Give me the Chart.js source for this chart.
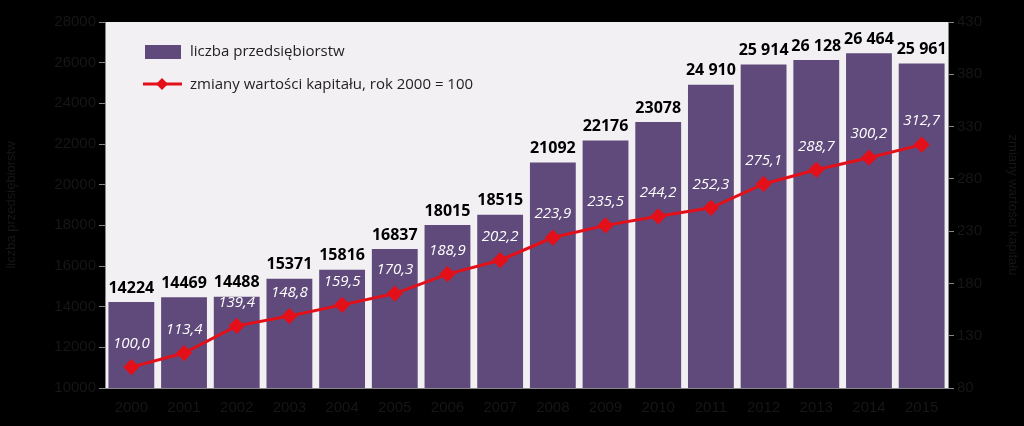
<!DOCTYPE html>
<html><head><meta charset="utf-8">
<script src="https://cdn.jsdelivr.net/npm/chart.js@4"></script>
<style>html,body{margin:0;background:#000}#wrap{width:1024px;height:426px}</style>
</head><body><div id="wrap"><canvas id="c"></canvas></div>
<script>
const years = ['2000','2001','2002','2003','2004','2005','2006','2007','2008','2009','2010','2011','2012','2013','2014','2015'];
const firms = [14224,14469,14488,15371,15816,16837,18015,18515,21092,22176,23078,24910,25914,26128,26464,25961];
const firmLabels = ['14224','14469','14488','15371','15816','16837','18015','18515','21092','22176','23078','24 910','25 914','26 128','26 464','25 961'];
const capital = [100.0,113.4,139.4,148.8,159.5,170.3,188.9,202.2,223.9,235.5,244.2,252.3,275.1,288.7,300.2,312.7];

const tickCol = '#161616';
const labelsPlugin = {
  id: 'labels',
  beforeDraw(ch) {
    const a = ch.chartArea, ctx = ch.ctx;
    ctx.save();
    ctx.fillStyle = '#000'; ctx.fillRect(0, 0, ch.width, ch.height);
    ctx.fillStyle = '#f2f0f3'; ctx.fillRect(a.left, a.top, a.right - a.left, a.bottom - a.top);
    ctx.restore();
  },
  afterDatasetsDraw(ch) {
    const ctx = ch.ctx;
    ctx.save();
    ctx.textAlign = 'center'; ctx.textBaseline = 'bottom';
    ctx.font = 'bold 16px "Open Sans", Calibri, sans-serif'; ctx.fillStyle = '#000';
    ch.getDatasetMeta(0).data.forEach((b, i) => ctx.fillText(firmLabels[i], b.x, b.y - 6));
    ctx.font = 'italic 15px "Open Sans", sans-serif'; ctx.fillStyle = '#fff';
    ch.getDatasetMeta(1).data.forEach((p, i) => ctx.fillText(capital[i].toFixed(1).replace('.', ','), p.x, p.y - 16));
    // legend
    ctx.fillStyle = '#604a7b'; ctx.fillRect(145, 45, 36, 14);
    ctx.strokeStyle = '#e3101a'; ctx.lineWidth = 3;
    ctx.beginPath(); ctx.moveTo(143, 84); ctx.lineTo(182, 84); ctx.stroke();
    ctx.fillStyle = '#e3101a'; ctx.beginPath();
    ctx.moveTo(162, 78); ctx.lineTo(168, 84); ctx.lineTo(162, 90); ctx.lineTo(156, 84); ctx.fill();
    ctx.fillStyle = '#222'; ctx.font = '15px "Open Sans", sans-serif';
    ctx.textAlign = 'left'; ctx.textBaseline = 'middle';
    ctx.fillText('liczba przedsiębiorstw', 190, 52);
    ctx.fillText('zmiany wartości kapitału, rok 2000 = 100', 190, 85);
    ctx.restore();
  }
};

new Chart(document.getElementById('c'), {
  data: {
    labels: years,
    datasets: [
      { type: 'bar', data: firms, backgroundColor: '#604a7b', yAxisID: 'y', order: 2,
        barPercentage: 0.87, categoryPercentage: 1 },
      { type: 'line', data: capital, borderColor: '#e3101a', backgroundColor: '#e3101a', borderWidth: 3,
        pointStyle: 'rectRot', pointRadius: 6, yAxisID: 'y1', order: 1, tension: 0 }
    ]
  },
  options: {
    responsive: true, maintainAspectRatio: false, animation: false,
    layout: { padding: { top: 22, bottom: 0 } },
    plugins: { legend: { display: false }, tooltip: { enabled: false } },
    scales: {
      x: { grid: { display: false }, border: { color: '#888' },
           ticks: { color: tickCol, font: { size: 15 } },
           afterFit(s) { s.height = 38; } },
      y: { position: 'left', min: 10000, max: 28000,
           ticks: { stepSize: 2000, color: tickCol, font: { size: 15 }, callback: v => String(v) },
           grid: { drawOnChartArea: false, color: '#888', tickLength: 6 }, border: { color: '#888' },
           title: { display: true, text: 'liczba przedsiębiorstw', color: tickCol, font: { size: 13 } },
           afterFit(s) { s.width = 105; } },
      y1: { position: 'right', min: 80, max: 430,
            ticks: { stepSize: 50, color: tickCol, font: { size: 15 }, callback: v => String(v) },
            grid: { drawOnChartArea: false, color: '#888', tickLength: 6 }, border: { color: '#888' },
            title: { display: true, text: 'zmiany wartości kapitału', color: tickCol, font: { size: 13 } },
            afterFit(s) { s.width = 76; } }
    }
  },
  plugins: [labelsPlugin]
});
</script></body></html>
